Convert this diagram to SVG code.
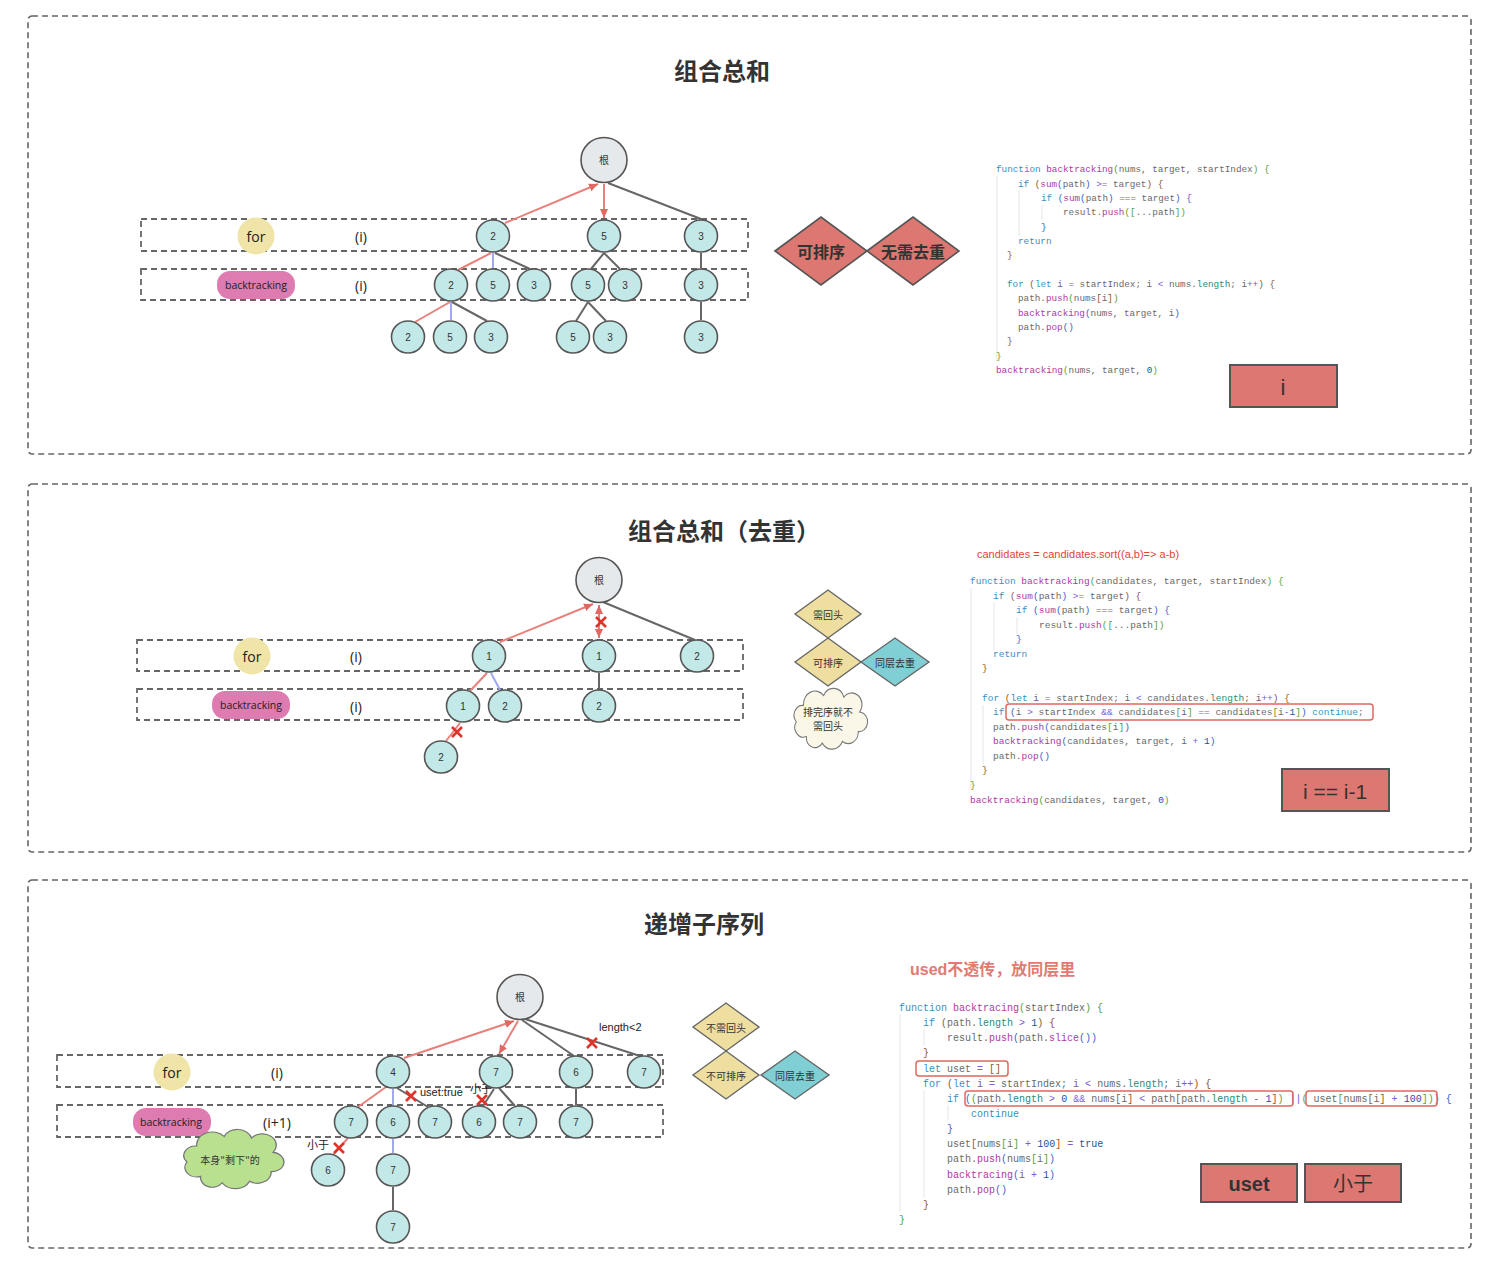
<svg xmlns="http://www.w3.org/2000/svg" width="1488" height="1266" viewBox="0 0 1488 1266">
<style>
.panel{fill:#fff;stroke:#666;stroke-width:1.6;stroke-dasharray:6 4}
.row{fill:none;stroke:#666;stroke-width:1.8;stroke-dasharray:6 4}
.title{font-family:"Noto Sans CJK SC","Liberation Sans",sans-serif;font-size:24px;font-weight:bold;fill:#333;text-anchor:middle}
.nd{fill:#c3e8e8;stroke:#555;stroke-width:1.6}
.root{fill:#e6e9ec;stroke:#555;stroke-width:1.6}
.nt{font-family:"Liberation Sans","Noto Sans CJK SC",sans-serif;font-size:10px;fill:#333;text-anchor:middle;dominant-baseline:central}
.forc{fill:#f0e4a8}
.pill{fill:#de7bb1}
.lbl{font-family:"Open Sans","Liberation Sans",sans-serif;fill:#222;text-anchor:middle;dominant-baseline:central}
.g{stroke:#666;stroke-width:2;fill:none}
.r{stroke:#e8817b;stroke-width:2;fill:none}
.b{stroke:#a0a8f0;stroke-width:2;fill:none}
.x{stroke:#e0332a;stroke-width:2.6;fill:none}
.dia{fill:#dd7771;stroke:#555;stroke-width:1.6}
.diay{fill:#eedfa0;stroke:#666;stroke-width:1.4}
.diat{fill:#7fcfd4;stroke:#666;stroke-width:1.4}
.dt{font-family:"Noto Sans CJK SC",sans-serif;fill:#333;text-anchor:middle;dominant-baseline:central}
.box{fill:#dd7771;stroke:#555;stroke-width:2}
.bt{font-family:"Liberation Sans","Noto Sans CJK SC",sans-serif;fill:#333;text-anchor:middle;dominant-baseline:central}
.c{font-family:"Liberation Mono","DejaVu Sans Mono",monospace;fill:#6a6a6a}
.k{fill:#3a8fc0}.f{fill:#b0399f}.p1{fill:#5a9e3a}.p2{fill:#8a5a2a}.p3{fill:#3a5ed0}.o{fill:#7b5bd6}.n{fill:#24509a}.t{fill:#2a8a80}
.hl{fill:none;stroke:#e06860;stroke-width:1.5}
.guide{stroke:#e6e6e6;stroke-width:1}
.ann{font-family:"Liberation Sans","Noto Sans CJK SC",sans-serif;font-size:11px;fill:#222}
</style>
<defs>
<marker id="ar" markerWidth="10" markerHeight="10" refX="9" refY="5" orient="auto" markerUnits="userSpaceOnUse"><path d="M0,1 L9,5 L0,9 Z" fill="#e06860"/></marker>
<marker id="arS" markerWidth="10" markerHeight="10" refX="1" refY="5" orient="auto" markerUnits="userSpaceOnUse"><path d="M10,1 L1,5 L10,9 Z" fill="#e06860"/></marker>
<path id="cloud" d="M20 58 A12 12 0 0 1 6 40 A12 12 0 0 1 16 20 A16 16 0 0 1 44 8 A15 15 0 0 1 72 10 A14 14 0 0 1 94 28 A12 12 0 0 1 92 52 A14 14 0 0 1 70 64 A16 16 0 0 1 42 66 A12 12 0 0 1 20 58 Z"/>
</defs>
<rect width="1488" height="1266" fill="#fff"/>

<g id="panels">
<rect class="panel" x="28" y="16" width="1443" height="438" rx="4"/>
<rect class="panel" x="28" y="484" width="1443" height="368" rx="4"/>
<rect class="panel" x="28" y="880" width="1443" height="368" rx="4"/>
</g>

<!-- ================= PANEL 1 ================= -->
<g id="p1-title"><text class="title" x="722" y="80">组合总和</text></g>
<g id="p1-rows">
<rect class="row" x="141" y="219" width="607" height="32"/>
<rect class="row" x="141" y="269" width="607" height="31"/>
</g>
<g id="p1-for"><circle class="forc" cx="256" cy="236" r="18.5"/><text class="lbl" x="256" y="236" font-size="14">for</text></g>
<g id="p1-i1"><text class="lbl" x="361" y="236" font-size="14">(i)</text></g>
<g id="p1-bt"><rect class="pill" x="217" y="271" width="78" height="28" rx="13"/><text class="lbl" x="256" y="285" font-size="10.5" fill="#111">backtracking</text></g>
<g id="p1-i2"><text class="lbl" x="361" y="285" font-size="14">(i)</text></g>

<g id="p1-connectors">
<line class="r" x1="505" y1="223" x2="598" y2="184" marker-end="url(#ar)"/>
<line class="r" x1="604" y1="184" x2="604" y2="218" marker-end="url(#ar)"/>
<line class="g" x1="608" y1="183" x2="701" y2="219"/>
<line class="r" x1="491" y1="253" x2="458" y2="270"/>
<line class="b" x1="493" y1="253" x2="493" y2="268"/>
<line class="g" x1="495" y1="253" x2="530" y2="269"/>
<line class="g" x1="604" y1="253" x2="591" y2="269"/>
<line class="g" x1="604" y1="253" x2="620" y2="269"/>
<line class="g" x1="701" y1="253" x2="701" y2="268"/>
<line class="r" x1="450" y1="302" x2="415" y2="322"/>
<line class="b" x1="451" y1="302" x2="451" y2="320"/>
<line class="g" x1="452" y1="302" x2="487" y2="321"/>
<line class="g" x1="588" y1="302" x2="576" y2="321"/>
<line class="g" x1="588" y1="302" x2="606" y2="321"/>
<line class="g" x1="701" y1="302" x2="701" y2="320"/>
</g>

<g id="p1-root"><ellipse class="root" cx="604" cy="160" rx="23" ry="22.5"/><text class="nt" x="604" y="160">根</text></g>
<g id="p1-n2a"><ellipse class="nd" cx="493" cy="236" rx="16.5" ry="16"/><text class="nt" x="493" y="236">2</text></g>
<g id="p1-n5a"><ellipse class="nd" cx="604" cy="236" rx="16.5" ry="16"/><text class="nt" x="604" y="236">5</text></g>
<g id="p1-n3a"><ellipse class="nd" cx="701" cy="236" rx="16.5" ry="16"/><text class="nt" x="701" y="236">3</text></g>
<g id="p1-n2b"><ellipse class="nd" cx="451" cy="285" rx="16.5" ry="16"/><text class="nt" x="451" y="285">2</text></g>
<g id="p1-n5b"><ellipse class="nd" cx="493" cy="285" rx="16.5" ry="16"/><text class="nt" x="493" y="285">5</text></g>
<g id="p1-n3b"><ellipse class="nd" cx="534" cy="285" rx="16.5" ry="16"/><text class="nt" x="534" y="285">3</text></g>
<g id="p1-n5c"><ellipse class="nd" cx="588" cy="285" rx="16.5" ry="16"/><text class="nt" x="588" y="285">5</text></g>
<g id="p1-n3c"><ellipse class="nd" cx="625" cy="285" rx="16.5" ry="16"/><text class="nt" x="625" y="285">3</text></g>
<g id="p1-n3d"><ellipse class="nd" cx="701" cy="285" rx="16.5" ry="16"/><text class="nt" x="701" y="285">3</text></g>
<g id="p1-n2e"><ellipse class="nd" cx="408" cy="337" rx="16.5" ry="16"/><text class="nt" x="408" y="337">2</text></g>
<g id="p1-n5e"><ellipse class="nd" cx="450" cy="337" rx="16.5" ry="16"/><text class="nt" x="450" y="337">5</text></g>
<g id="p1-n3e"><ellipse class="nd" cx="491" cy="337" rx="16.5" ry="16"/><text class="nt" x="491" y="337">3</text></g>
<g id="p1-n5f"><ellipse class="nd" cx="573" cy="337" rx="16.5" ry="16"/><text class="nt" x="573" y="337">5</text></g>
<g id="p1-n3f"><ellipse class="nd" cx="610" cy="337" rx="16.5" ry="16"/><text class="nt" x="610" y="337">3</text></g>
<g id="p1-n3g"><ellipse class="nd" cx="701" cy="337" rx="16.5" ry="16"/><text class="nt" x="701" y="337">3</text></g>

<g id="p1-d1"><polygon class="dia" points="775,251 821,217 867,251 821,285"/><text class="dt" x="821" y="251" font-size="16" font-weight="bold">可排序</text></g>
<g id="p1-d2"><polygon class="dia" points="867,251 913,217 959,251 913,285"/><text class="dt" x="913" y="251" font-size="16" font-weight="bold">无需去重</text></g>

<g id="p1-code" class="c" font-size="9.3">
<line class="guide" x1="997" y1="176" x2="997" y2="362"/>
<line class="guide" x1="1019" y1="190" x2="1019" y2="236"/>
<line class="guide" x1="1042" y1="205" x2="1042" y2="220"/>
<text x="996" y="172"><tspan class="k">function</tspan> <tspan class="f">backtracking</tspan><tspan class="p1">(</tspan>nums, target, startIndex<tspan class="p1">)</tspan> <tspan class="p1">{</tspan></text>
<text x="1018" y="187"><tspan class="k">if</tspan> <tspan class="p2">(</tspan><tspan class="f">sum</tspan><tspan class="p3">(</tspan>path<tspan class="p3">)</tspan> <tspan class="o">&gt;=</tspan> target<tspan class="p2">)</tspan> <tspan class="p2">{</tspan></text>
<text x="1041" y="201"><tspan class="k">if</tspan> <tspan class="p3">(</tspan><tspan class="f">sum</tspan><tspan class="p3">(</tspan>path<tspan class="p3">)</tspan> <tspan class="o">===</tspan> target<tspan class="p3">)</tspan> <tspan class="p3">{</tspan></text>
<text x="1063" y="215">result.<tspan class="f">push</tspan><tspan class="p1">([</tspan>...path<tspan class="p1">])</tspan></text>
<text x="1041" y="230"><tspan class="p3">}</tspan></text>
<text x="1018" y="244"><tspan class="k">return</tspan></text>
<text x="1007" y="258"><tspan class="p2">}</tspan></text>
<text x="1007" y="287"><tspan class="k">for</tspan> <tspan class="p2">(</tspan><tspan class="k">let</tspan> i <tspan class="o">=</tspan> startIndex; i <tspan class="o">&lt;</tspan> nums.<tspan class="t">length</tspan>; i<tspan class="o">++</tspan><tspan class="p2">)</tspan> <tspan class="p2">{</tspan></text>
<text x="1018" y="301">path.<tspan class="f">push</tspan><tspan class="p1">(</tspan>nums<tspan class="p2">[</tspan>i<tspan class="p2">]</tspan><tspan class="p1">)</tspan></text>
<text x="1018" y="316"><tspan class="f">backtracking</tspan><tspan class="p3">(</tspan>nums, target, i<tspan class="p3">)</tspan></text>
<text x="1018" y="330">path.<tspan class="f">pop</tspan><tspan class="p3">()</tspan></text>
<text x="1007" y="344"><tspan class="p2">}</tspan></text>
<text x="996" y="359"><tspan class="p1">}</tspan></text>
<text x="996" y="373"><tspan class="f">backtracking</tspan><tspan class="p1">(</tspan>nums, target, <tspan class="n">0</tspan><tspan class="p1">)</tspan></text>
</g>
<g id="p1-box"><rect class="box" x="1230" y="365" width="107" height="42"/><text class="bt" x="1283" y="387" font-size="22">i</text></g>

<!-- ================= PANEL 2 ================= -->
<g id="p2-title"><text class="title" x="724" y="540">组合总和（去重）</text></g>
<g id="p2-rows">
<rect class="row" x="137" y="640" width="606" height="31"/>
<rect class="row" x="137" y="689" width="606" height="31"/>
</g>
<g id="p2-for"><circle class="forc" cx="252" cy="656" r="18.5"/><text class="lbl" x="252" y="656" font-size="14">for</text></g>
<g id="p2-i1"><text class="lbl" x="356" y="656" font-size="14">(i)</text></g>
<g id="p2-bt"><rect class="pill" x="212" y="691" width="78" height="28" rx="13"/><text class="lbl" x="251" y="705" font-size="10.5" fill="#111">backtracking</text></g>
<g id="p2-i2"><text class="lbl" x="356" y="706" font-size="14">(i)</text></g>

<g id="p2-connectors">
<line class="r" x1="500" y1="642" x2="593" y2="604" marker-end="url(#ar)"/>
<line class="r" x1="599" y1="605" x2="599" y2="638" marker-start="url(#arS)" marker-end="url(#ar)"/>
<line class="g" x1="603" y1="602" x2="695" y2="640"/>
<line class="r" x1="487" y1="673" x2="470" y2="691"/>
<line class="b" x1="491" y1="673" x2="500" y2="690"/>
<line class="g" x1="599" y1="673" x2="599" y2="689"/>
<line class="r" x1="460" y1="723" x2="446" y2="741"/>
<path class="x" d="M596 617 L606 627 M606 617 L596 627"/>
<path class="x" d="M452 727 L462 737 M462 727 L452 737"/>
</g>

<g id="p2-root"><ellipse class="root" cx="599" cy="580" rx="23" ry="22.5"/><text class="nt" x="599" y="580">根</text></g>
<g id="p2-n1a"><ellipse class="nd" cx="489" cy="656" rx="16.5" ry="16"/><text class="nt" x="489" y="656">1</text></g>
<g id="p2-n1b"><ellipse class="nd" cx="599" cy="656" rx="16.5" ry="16"/><text class="nt" x="599" y="656">1</text></g>
<g id="p2-n2a"><ellipse class="nd" cx="697" cy="656" rx="16.5" ry="16"/><text class="nt" x="697" y="656">2</text></g>
<g id="p2-n1c"><ellipse class="nd" cx="463" cy="706" rx="16.5" ry="16"/><text class="nt" x="463" y="706">1</text></g>
<g id="p2-n2b"><ellipse class="nd" cx="505" cy="706" rx="16.5" ry="16"/><text class="nt" x="505" y="706">2</text></g>
<g id="p2-n2c"><ellipse class="nd" cx="599" cy="706" rx="16.5" ry="16"/><text class="nt" x="599" y="706">2</text></g>
<g id="p2-n2d"><ellipse class="nd" cx="441" cy="757" rx="16.5" ry="16"/><text class="nt" x="441" y="757">2</text></g>

<g id="p2-d1"><polygon class="diay" points="795,614 828,590 861,614 828,638"/><text class="dt" x="828" y="614" font-size="10">需回头</text></g>
<g id="p2-d2"><polygon class="diay" points="795,662 828,638 861,662 828,686"/><text class="dt" x="828" y="662" font-size="10">可排序</text></g>
<g id="p2-d3"><polygon class="diat" points="861,662 895,638 929,662 895,686"/><text class="dt" x="895" y="662" font-size="10">同层去重</text></g>
<g id="p2-cloud"><use href="#cloud" transform="translate(792,689) scale(0.72,0.82)" fill="#fbf7e8" stroke="#777" stroke-width="1.4" vector-effect="non-scaling-stroke"/>
<text class="dt" x="828" y="711" font-size="10">排完序就不</text><text class="dt" x="828" y="725" font-size="10">需回头</text></g>

<g id="p2-code" class="c" font-size="9.5">
<text x="977" y="558" font-family="Liberation Sans,sans-serif" font-size="11" fill="#e0453a">candidates = candidates.sort((a,b)=&gt; a-b)</text>
<line class="guide" x1="971" y1="588" x2="971" y2="790"/>
<line class="guide" x1="994" y1="602" x2="994" y2="650"/>
<line class="guide" x1="1017" y1="617" x2="1017" y2="634"/>
<line class="guide" x1="983" y1="705" x2="983" y2="765"/>
<text x="970" y="584"><tspan class="k">function</tspan> <tspan class="f">backtracking</tspan><tspan class="p1">(</tspan>candidates, target, startIndex<tspan class="p1">)</tspan> <tspan class="p1">{</tspan></text>
<text x="993" y="599"><tspan class="k">if</tspan> <tspan class="p2">(</tspan><tspan class="f">sum</tspan><tspan class="p3">(</tspan>path<tspan class="p3">)</tspan> <tspan class="o">&gt;=</tspan> target<tspan class="p2">)</tspan> <tspan class="p2">{</tspan></text>
<text x="1016" y="613"><tspan class="k">if</tspan> <tspan class="p3">(</tspan><tspan class="f">sum</tspan><tspan class="p3">(</tspan>path<tspan class="p3">)</tspan> <tspan class="o">===</tspan> target<tspan class="p3">)</tspan> <tspan class="p3">{</tspan></text>
<text x="1039" y="628">result.<tspan class="f">push</tspan><tspan class="p1">([</tspan>...path<tspan class="p1">])</tspan></text>
<text x="1016" y="642"><tspan class="p3">}</tspan></text>
<text x="993" y="657"><tspan class="k">return</tspan></text>
<text x="982" y="671"><tspan class="p2">}</tspan></text>
<text x="982" y="701"><tspan class="k">for</tspan> <tspan class="p2">(</tspan><tspan class="k">let</tspan> i <tspan class="o">=</tspan> startIndex; i <tspan class="o">&lt;</tspan> candidates.<tspan class="t">length</tspan>; i<tspan class="o">++</tspan><tspan class="p2">)</tspan> <tspan class="p2">{</tspan></text>
<text x="993" y="715"><tspan class="k">if</tspan> <tspan class="p3">(</tspan>i <tspan class="o">&gt;</tspan> startIndex <tspan class="o">&amp;&amp;</tspan> candidates<tspan class="p1">[</tspan>i<tspan class="p1">]</tspan> <tspan class="o">==</tspan> candidates<tspan class="p1">[</tspan>i<tspan class="o">-</tspan><tspan class="n">1</tspan><tspan class="p1">]</tspan><tspan class="p3">)</tspan> <tspan class="k">continue</tspan>;</text>
<text x="993" y="730">path.<tspan class="f">push</tspan><tspan class="p3">(</tspan>candidates<tspan class="p1">[</tspan>i<tspan class="p1">]</tspan><tspan class="p3">)</tspan></text>
<text x="993" y="744"><tspan class="f">backtracking</tspan><tspan class="p3">(</tspan>candidates, target, i <tspan class="o">+</tspan> <tspan class="n">1</tspan><tspan class="p3">)</tspan></text>
<text x="993" y="759">path.<tspan class="f">pop</tspan><tspan class="p3">()</tspan></text>
<text x="982" y="773"><tspan class="p2">}</tspan></text>
<text x="970" y="788"><tspan class="p1">}</tspan></text>
<text x="970" y="803"><tspan class="f">backtracking</tspan><tspan class="p1">(</tspan>candidates, target, <tspan class="n">0</tspan><tspan class="p1">)</tspan></text>
<rect class="hl" x="1006" y="704" width="367" height="16" rx="3"/>
</g>
<g id="p2-box"><rect class="box" x="1282" y="769" width="107" height="42"/><text class="bt" x="1335" y="791" font-size="21">i == i-1</text></g>

<!-- ================= PANEL 3 ================= -->
<g id="p3-title"><text class="title" x="704" y="933">递增子序列</text></g>
<g id="p3-rows">
<rect class="row" x="57" y="1055" width="606" height="32"/>
<rect class="row" x="57" y="1105" width="606" height="32"/>
</g>
<g id="p3-for"><circle class="forc" cx="172" cy="1072" r="18.5"/><text class="lbl" x="172" y="1072" font-size="14">for</text></g>
<g id="p3-i1"><text class="lbl" x="277" y="1072" font-size="14">(i)</text></g>
<g id="p3-bt"><rect class="pill" x="133" y="1108" width="78" height="28" rx="13"/><text class="lbl" x="171" y="1122" font-size="10.5" fill="#111">backtracking</text></g>
<g id="p3-i2"><text class="lbl" x="277" y="1122" font-size="14">(i+1)</text></g>
<g id="p3-cloud"><use href="#cloud" transform="translate(181,1130) scale(0.98,0.8)" fill="#b9e08f" stroke="#777" stroke-width="1.4" vector-effect="non-scaling-stroke"/>
<text class="dt" x="230" y="1159" font-size="10">本身"剩下"的</text></g>

<g id="p3-connectors">
<line class="r" x1="404" y1="1058" x2="514" y2="1021" marker-end="url(#ar)"/>
<line class="r" x1="518" y1="1021" x2="499" y2="1054" marker-end="url(#ar)"/>
<line class="g" x1="522" y1="1020" x2="574" y2="1056"/>
<line class="g" x1="525" y1="1019" x2="640" y2="1056"/>
<line class="r" x1="386" y1="1087" x2="358" y2="1107"/>
<line class="b" x1="393" y1="1089" x2="393" y2="1105"/>
<line class="g" x1="397" y1="1088" x2="428" y2="1107"/>
<line class="g" x1="494" y1="1089" x2="483" y2="1106"/>
<line class="g" x1="499" y1="1088" x2="515" y2="1106"/>
<line class="g" x1="576" y1="1089" x2="576" y2="1105"/>
<line class="r" x1="348" y1="1138" x2="333" y2="1155"/>
<line class="b" x1="393" y1="1139" x2="393" y2="1153"/>
<line class="g" x1="393" y1="1187" x2="393" y2="1210"/>
<path class="x" d="M587 1038 L597 1048 M597 1038 L587 1048"/>
<path class="x" d="M406 1091 L416 1101 M416 1091 L406 1101"/>
<path class="x" d="M477 1095 L487 1105 M487 1095 L477 1105"/>
<path class="x" d="M334 1143 L344 1153 M344 1143 L334 1153"/>
<text class="ann" x="599" y="1031">length&lt;2</text>
<text class="ann" x="420" y="1096">uset:true</text>
<text class="ann" x="470" y="1093">小于</text>
<text class="ann" x="307" y="1149">小于</text>
</g>

<g id="p3-root"><ellipse class="root" cx="520" cy="997" rx="23" ry="22.5"/><text class="nt" x="520" y="997">根</text></g>
<g id="p3-n4"><ellipse class="nd" cx="393" cy="1072" rx="16.5" ry="16"/><text class="nt" x="393" y="1072">4</text></g>
<g id="p3-n7a"><ellipse class="nd" cx="496" cy="1072" rx="16.5" ry="16"/><text class="nt" x="496" y="1072">7</text></g>
<g id="p3-n6a"><ellipse class="nd" cx="576" cy="1072" rx="16.5" ry="16"/><text class="nt" x="576" y="1072">6</text></g>
<g id="p3-n7b"><ellipse class="nd" cx="644" cy="1072" rx="16.5" ry="16"/><text class="nt" x="644" y="1072">7</text></g>
<g id="p3-n7c"><ellipse class="nd" cx="351" cy="1122" rx="16.5" ry="16"/><text class="nt" x="351" y="1122">7</text></g>
<g id="p3-n6b"><ellipse class="nd" cx="393" cy="1122" rx="16.5" ry="16"/><text class="nt" x="393" y="1122">6</text></g>
<g id="p3-n7d"><ellipse class="nd" cx="435" cy="1122" rx="16.5" ry="16"/><text class="nt" x="435" y="1122">7</text></g>
<g id="p3-n6c"><ellipse class="nd" cx="479" cy="1122" rx="16.5" ry="16"/><text class="nt" x="479" y="1122">6</text></g>
<g id="p3-n7e"><ellipse class="nd" cx="520" cy="1122" rx="16.5" ry="16"/><text class="nt" x="520" y="1122">7</text></g>
<g id="p3-n7f"><ellipse class="nd" cx="576" cy="1122" rx="16.5" ry="16"/><text class="nt" x="576" y="1122">7</text></g>
<g id="p3-n6d"><ellipse class="nd" cx="328" cy="1170" rx="16.5" ry="16"/><text class="nt" x="328" y="1170">6</text></g>
<g id="p3-n7g"><ellipse class="nd" cx="393" cy="1170" rx="16.5" ry="16"/><text class="nt" x="393" y="1170">7</text></g>
<g id="p3-n7h"><ellipse class="nd" cx="393" cy="1227" rx="16.5" ry="16"/><text class="nt" x="393" y="1227">7</text></g>

<g id="p3-d1"><polygon class="diay" points="693,1027 726,1003 759,1027 726,1051"/><text class="dt" x="726" y="1027" font-size="10">不需回头</text></g>
<g id="p3-d2"><polygon class="diay" points="693,1075 726,1051 759,1075 726,1099"/><text class="dt" x="726" y="1075" font-size="10">不可排序</text></g>
<g id="p3-d3"><polygon class="diat" points="761,1075 795,1051 829,1075 795,1099"/><text class="dt" x="795" y="1075" font-size="10">同层去重</text></g>

<g id="p3-note"><text x="910" y="975" font-family="Liberation Sans,Noto Sans CJK SC,sans-serif" font-size="16" font-weight="bold" fill="#e27a73">used不透传，放同层里</text></g>

<g id="p3-code" class="c" font-size="10">
<line class="guide" x1="900" y1="1014" x2="900" y2="1212"/>
<line class="guide" x1="924" y1="1029" x2="924" y2="1046"/>
<line class="guide" x1="924" y1="1090" x2="924" y2="1198"/>
<line class="guide" x1="948" y1="1105" x2="948" y2="1120"/>
<text x="899" y="1011"><tspan class="k">function</tspan> <tspan class="f">backtracing</tspan><tspan class="p1">(</tspan>startIndex<tspan class="p1">)</tspan> <tspan class="p1">{</tspan></text>
<text x="923" y="1026"><tspan class="k">if</tspan> <tspan class="p2">(</tspan>path.<tspan class="t">length</tspan> <tspan class="o">&gt;</tspan> <tspan class="n">1</tspan><tspan class="p2">)</tspan> <tspan class="p2">{</tspan></text>
<text x="947" y="1041">result.<tspan class="f">push</tspan><tspan class="p3">(</tspan>path.<tspan class="f">slice</tspan><tspan class="p3">())</tspan></text>
<text x="923" y="1056"><tspan class="p2">}</tspan></text>
<text x="923" y="1072"><tspan class="k">let</tspan> uset <tspan class="o">=</tspan> <tspan class="p2">[]</tspan></text>
<text x="923" y="1087"><tspan class="k">for</tspan> <tspan class="p2">(</tspan><tspan class="k">let</tspan> i <tspan class="o">=</tspan> startIndex; i <tspan class="o">&lt;</tspan> nums.<tspan class="t">length</tspan>; i<tspan class="o">++</tspan><tspan class="p2">)</tspan> <tspan class="p2">{</tspan></text>
<text x="947" y="1102"><tspan class="k">if</tspan> <tspan class="p3">(</tspan><tspan class="p1">(</tspan>path.<tspan class="t">length</tspan> <tspan class="o">&gt;</tspan> <tspan class="n">0</tspan> <tspan class="o">&amp;&amp;</tspan> nums<tspan class="p2">[</tspan>i<tspan class="p2">]</tspan> <tspan class="o">&lt;</tspan> path<tspan class="p2">[</tspan>path.<tspan class="t">length</tspan> <tspan class="o">-</tspan> <tspan class="n">1</tspan><tspan class="p2">]</tspan><tspan class="p1">)</tspan> <tspan class="o">||</tspan><tspan class="p1">(</tspan> uset<tspan class="p1">[</tspan>nums<tspan class="p2">[</tspan>i<tspan class="p2">]</tspan> <tspan class="o">+</tspan> <tspan class="n">100</tspan><tspan class="p1">]</tspan><tspan class="p1">)</tspan><tspan class="p3">)</tspan> <tspan class="p3">{</tspan></text>
<text x="971" y="1117"><tspan class="k">continue</tspan></text>
<text x="947" y="1132"><tspan class="p3">}</tspan></text>
<text x="947" y="1147">uset<tspan class="p2">[</tspan>nums<tspan class="p1">[</tspan>i<tspan class="p1">]</tspan> <tspan class="o">+</tspan> <tspan class="n">100</tspan><tspan class="p2">]</tspan> <tspan class="o">=</tspan> <tspan class="n">true</tspan></text>
<text x="947" y="1162">path.<tspan class="f">push</tspan><tspan class="p3">(</tspan>nums<tspan class="p1">[</tspan>i<tspan class="p1">]</tspan><tspan class="p3">)</tspan></text>
<text x="947" y="1178"><tspan class="f">backtracing</tspan><tspan class="p3">(</tspan>i <tspan class="o">+</tspan> <tspan class="n">1</tspan><tspan class="p3">)</tspan></text>
<text x="947" y="1193">path.<tspan class="f">pop</tspan><tspan class="p3">()</tspan></text>
<text x="923" y="1208"><tspan class="p2">}</tspan></text>
<text x="899" y="1223"><tspan class="p1">}</tspan></text>
<rect class="hl" x="916" y="1061" width="92" height="15" rx="3"/>
<rect class="hl" x="965" y="1091" width="328" height="15" rx="3"/>
<rect class="hl" x="1306" y="1091" width="131" height="15" rx="3"/>
</g>
<g id="p3-box1"><rect class="box" x="1201" y="1164" width="96" height="38"/><text class="bt" x="1249" y="1184" font-size="20" font-weight="bold">uset</text></g>
<g id="p3-box2"><rect class="box" x="1305" y="1164" width="96" height="38"/><text class="bt" x="1353" y="1184" font-size="20">小于</text></g>
</svg>
